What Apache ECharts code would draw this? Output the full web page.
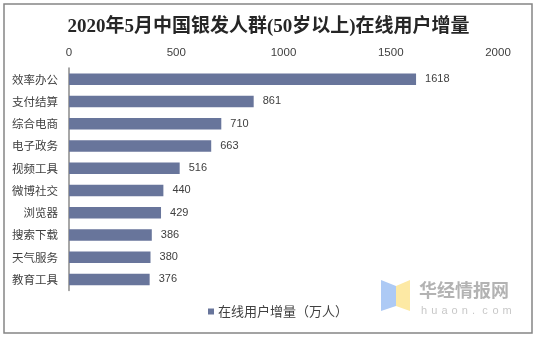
<!DOCTYPE html>
<html>
<head>
<meta charset="utf-8">
<script src="https://cdn.jsdelivr.net/npm/echarts@6/dist/echarts.min.js"></script>
<style>
html,body{margin:0;padding:0;background:#fff;}
#c{width:537px;height:337px;}
</style>
</head>
<body>
<div id="c"></div>
<script>
var titleText = '2020年5月中国银发人群(50岁以上)在线用户增量';
var seriesName = '在线用户增量（万人）';
var categories = ['效率办公','支付结算','综合电商','电子政务','视频工具','微博社交','浏览器','搜索下载','天气服务','教育工具'];
var values = [1618, 861, 710, 663, 516, 440, 429, 386, 380, 376];
var xTicks = [0, 500, 1000, 1500, 2000];

var chart = echarts.init(document.getElementById('c'), null, {renderer:'canvas'});
var cjk = "'Noto Sans CJK SC', sans-serif";
var latin = "'Liberation Sans', 'Noto Sans CJK SC', sans-serif";

var letters = 'huaon.com'.split('');
var wmLetters = letters.map(function(ch, i){
  return {type:'text', left: 421 + i*10.2, top: 305, silent:true,
    style:{text: ch, fill:'#c8c8c8', font: "11px 'Liberation Sans', sans-serif"}};
});

chart.setOption({
  backgroundColor:'#fff',
  animation:false,
  title:{
    text: titleText,
    left:'center', top: 13,
    textStyle:{fontFamily:"'Liberation Serif', 'Noto Sans CJK SC', serif", fontSize:19, fontWeight:'bold', color:'#262626'}
  },
  grid:{left:69, right:39, top:68, bottom:46.5, containLabel:false},
  xAxis:{
    type:'value', position:'top', min:xTicks[0], max:xTicks[xTicks.length-1], interval:500,
    axisLine:{show:false}, axisTick:{show:false}, splitLine:{show:false},
    axisLabel:{margin:9, color:'#404040', fontSize:11.5, fontFamily:latin,
      formatter:function(v){ return String(v); }}
  },
  yAxis:{
    type:'category', data:categories, inverse:true,
    axisLine:{show:true, lineStyle:{color:'#8a8a8a', width:1.5}},
    axisTick:{show:false},
    axisLabel:{margin:11, color:'#404040', fontSize:11.5, fontFamily:cjk}
  },
  legend:{
    data:[seriesName], left:203, top:300, icon:'rect', itemWidth:6, itemHeight:6, itemGap:5,
    textStyle:{fontSize:13, color:'#404040', fontFamily:cjk, padding:[0,0,0,-1]}
  },
  series:[{
    name: seriesName, type:'bar', data: values, barWidth:11.5,
    itemStyle:{color:'#68759b'},
    label:{show:true, position:'right', distance:9, color:'#404040', fontSize:11, fontFamily:latin}
  }],
  graphic:[
    {type:'rect', shape:{x:4, y:4, width:528, height:329}, silent:true, z:-1,
      style:{fill:'none', stroke:'#858585', lineWidth:1.5}},
    {type:'polygon', silent:true, shape:{points:[[381,280],[396,286],[396,306],[381,311]]}, style:{fill:'#adcaf5'}},
    {type:'polygon', silent:true, shape:{points:[[396,286],[410,280],[410,311],[396,306]]}, style:{fill:'#fde9a4'}},
    {type:'text', left:419, top:281, silent:true,
      style:{text:'华经情报网', fill:'#b3b3b3', font:"bold 18px 'Noto Sans CJK SC', sans-serif"}}
  ].concat(wmLetters)
});
</script>
</body>
</html>
